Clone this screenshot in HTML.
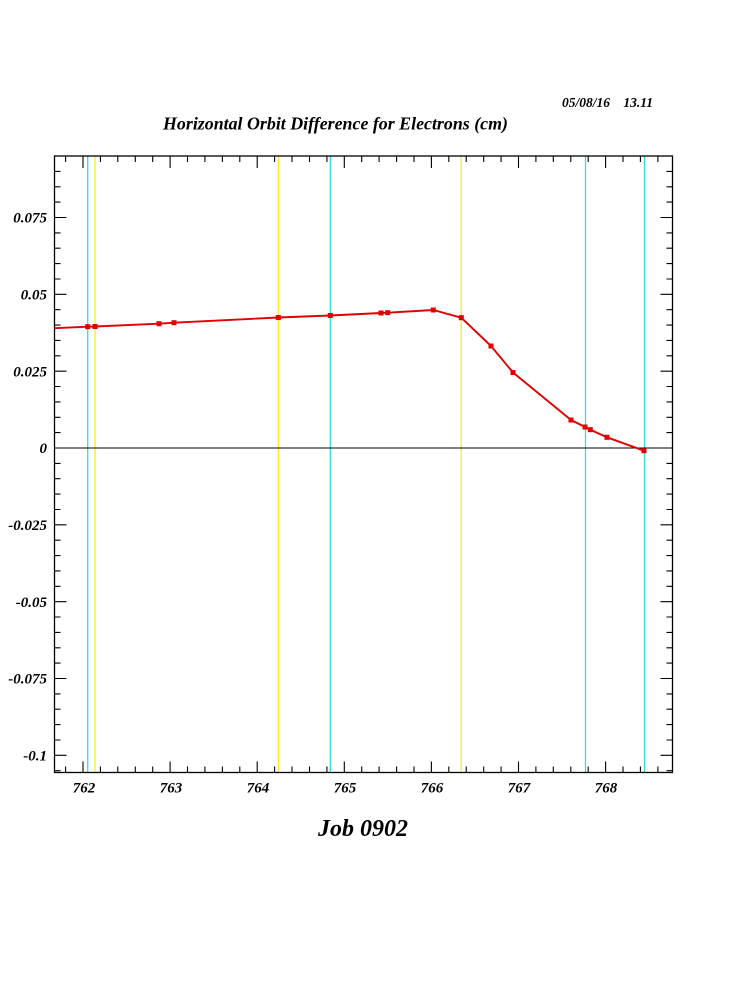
<!DOCTYPE html>
<html><head><meta charset="utf-8"><style>
html,body{margin:0;padding:0;background:#fff;}
svg{display:block;}
text{font-family:"Liberation Serif",serif;font-weight:bold;font-style:italic;fill:#000;}
</style></head><body>
<svg width="750" height="1000" viewBox="0 0 750 1000" xmlns="http://www.w3.org/2000/svg">
<rect width="750" height="1000" fill="#fff"/>
<text x="562" y="107" font-size="13.5">05/08/16</text>
<text x="653" y="107" font-size="13.5" text-anchor="end">13.11</text>
<text x="163" y="129.5" font-size="17.5" textLength="345" lengthAdjust="spacingAndGlyphs">Horizontal Orbit Difference for Electrons (cm)</text>
<!-- vertical element lines -->
<g stroke-width="1.3">
<line x1="87.7" y1="156" x2="87.7" y2="772" stroke="#33dddd"/>
<line x1="95" y1="156" x2="95" y2="772" stroke="#f5ee20"/>
<line x1="278.3" y1="156" x2="278.3" y2="772" stroke="#f5ee20"/>
<line x1="330.3" y1="156" x2="330.3" y2="772" stroke="#33dddd"/>
<line x1="461.2" y1="156" x2="461.2" y2="772" stroke="#f5ee20"/>
<line x1="585.5" y1="156" x2="585.5" y2="772" stroke="#33dddd"/>
<line x1="644.5" y1="156" x2="644.5" y2="772" stroke="#33dddd"/>
</g>
<!-- zero line -->
<line x1="54.5" y1="448" x2="672.5" y2="448" stroke="#000" stroke-width="1"/>
<!-- frame -->
<rect x="54.5" y="156" width="618" height="616.5" fill="none" stroke="#000" stroke-width="1.3"/>
<!-- y ticks -->
<path stroke="#000" stroke-width="1.1" fill="none" d="
M54.5 156.0H60.5 M54.5 171.4H60.5 M54.5 186.8H60.5 M54.5 202.1H60.5 M54.5 217.5H66.5
M54.5 232.9H60.5 M54.5 248.2H60.5 M54.5 263.6H60.5 M54.5 279.0H60.5 M54.5 294.3H66.5
M54.5 309.7H60.5 M54.5 325.1H60.5 M54.5 340.4H60.5 M54.5 355.8H60.5 M54.5 371.2H66.5
M54.5 386.5H60.5 M54.5 401.9H60.5 M54.5 417.3H60.5 M54.5 432.6H60.5 M54.5 448.0H66.5
M54.5 463.4H60.5 M54.5 478.7H60.5 M54.5 494.1H60.5 M54.5 509.5H60.5 M54.5 524.8H66.5
M54.5 540.2H60.5 M54.5 555.6H60.5 M54.5 570.9H60.5 M54.5 586.3H60.5 M54.5 601.7H66.5
M54.5 617.0H60.5 M54.5 632.4H60.5 M54.5 647.8H60.5 M54.5 663.1H60.5 M54.5 678.5H66.5
M54.5 693.9H60.5 M54.5 709.2H60.5 M54.5 724.6H60.5 M54.5 740.0H60.5 M54.5 755.3H66.5
M54.5 770.7H60.5
M672.5 156.0H666.5 M672.5 171.4H666.5 M672.5 186.8H666.5 M672.5 202.1H666.5 M672.5 217.5H660.5
M672.5 232.9H666.5 M672.5 248.2H666.5 M672.5 263.6H666.5 M672.5 279.0H666.5 M672.5 294.3H660.5
M672.5 309.7H666.5 M672.5 325.1H666.5 M672.5 340.4H666.5 M672.5 355.8H666.5 M672.5 371.2H660.5
M672.5 386.5H666.5 M672.5 401.9H666.5 M672.5 417.3H666.5 M672.5 432.6H666.5 M672.5 448.0H660.5
M672.5 463.4H666.5 M672.5 478.7H666.5 M672.5 494.1H666.5 M672.5 509.5H666.5 M672.5 524.8H660.5
M672.5 540.2H666.5 M672.5 555.6H666.5 M672.5 570.9H666.5 M672.5 586.3H666.5 M672.5 601.7H660.5
M672.5 617.0H666.5 M672.5 632.4H666.5 M672.5 647.8H666.5 M672.5 663.1H666.5 M672.5 678.5H660.5
M672.5 693.9H666.5 M672.5 709.2H666.5 M672.5 724.6H666.5 M672.5 740.0H666.5 M672.5 755.3H660.5
M672.5 770.7H666.5
"/>
<!-- x ticks -->
<path stroke="#000" stroke-width="1.1" fill="none" d="
M65.6 772.5V766.5 M83 772.5V761.5 M100.4 772.5V766.5 M117.8 772.5V766.5 M135.3 772.5V766.5 M152.7 772.5V766.5
M170.1 772.5V761.5 M187.5 772.5V766.5 M204.9 772.5V766.5 M222.4 772.5V766.5 M239.8 772.5V766.5
M257.2 772.5V761.5 M274.6 772.5V766.5 M292.0 772.5V766.5 M309.5 772.5V766.5 M326.9 772.5V766.5
M344.3 772.5V761.5 M361.7 772.5V766.5 M379.1 772.5V766.5 M396.6 772.5V766.5 M414.0 772.5V766.5
M431.4 772.5V761.5 M448.8 772.5V766.5 M466.2 772.5V766.5 M483.7 772.5V766.5 M501.1 772.5V766.5
M518.5 772.5V761.5 M535.9 772.5V766.5 M553.3 772.5V766.5 M570.8 772.5V766.5 M588.2 772.5V766.5
M605.6 772.5V761.5 M623.0 772.5V766.5 M640.4 772.5V766.5 M657.9 772.5V766.5
M65.6 156V162 M83 156V168 M100.4 156V162 M117.8 156V162 M135.3 156V162 M152.7 156V162
M170.1 156V168 M187.5 156V162 M204.9 156V162 M222.4 156V162 M239.8 156V162
M257.2 156V168 M274.6 156V162 M292.0 156V162 M309.5 156V162 M326.9 156V162
M344.3 156V168 M361.7 156V162 M379.1 156V162 M396.6 156V162 M414.0 156V162
M431.4 156V168 M448.8 156V162 M466.2 156V162 M483.7 156V162 M501.1 156V162
M518.5 156V168 M535.9 156V162 M553.3 156V162 M570.8 156V162 M588.2 156V162
M605.6 156V168 M623.0 156V162 M640.4 156V162 M657.9 156V162
"/>
<!-- y labels -->
<g font-size="15" text-anchor="end">
<text x="47" y="222.5">0.075</text>
<text x="47" y="299.5">0.05</text>
<text x="47" y="376.5">0.025</text>
<text x="47" y="453">0</text>
<text x="47" y="530">-0.025</text>
<text x="47" y="607">-0.05</text>
<text x="47" y="683.5">-0.075</text>
<text x="47" y="760.5">-0.1</text>
</g>
<!-- x labels -->
<g font-size="15" text-anchor="middle">
<text x="84" y="792.5">762</text>
<text x="171" y="792.5">763</text>
<text x="258" y="792.5">764</text>
<text x="345" y="792.5">765</text>
<text x="432" y="792.5">766</text>
<text x="519" y="792.5">767</text>
<text x="606" y="792.5">768</text>
</g>
<text x="363" y="836" font-size="24" text-anchor="middle">Job 0902</text>
<!-- data -->
<polyline fill="none" stroke="#e00000" stroke-width="1.9" stroke-linejoin="round" points="54.5,328.2 87.7,326.7 95,326.5 159,323.7 174,322.7 278.3,317.5 330.3,315.5 381,313 387.7,312.7 433.3,310 461.3,317.7 491,346 513,372.5 571,420 585,427 590.3,429.7 607,437.3 644,450.7"/>
<g fill="#e00000">
<rect x="85.2" y="324.2" width="5" height="5"/>
<rect x="92.5" y="324" width="5" height="5"/>
<rect x="156.5" y="321.2" width="5" height="5"/>
<rect x="171.5" y="320.2" width="5" height="5"/>
<rect x="275.8" y="315" width="5" height="5"/>
<rect x="327.8" y="313" width="5" height="5"/>
<rect x="378.5" y="310.5" width="5" height="5"/>
<rect x="385.2" y="310.2" width="5" height="5"/>
<rect x="430.8" y="307.5" width="5" height="5"/>
<rect x="458.8" y="315.2" width="5" height="5"/>
<rect x="488.5" y="343.5" width="5" height="5"/>
<rect x="510.5" y="370" width="5" height="5"/>
<rect x="568.5" y="417.5" width="5" height="5"/>
<rect x="582.5" y="424.5" width="5" height="5"/>
<rect x="587.8" y="427.2" width="5" height="5"/>
<rect x="604.5" y="434.8" width="5" height="5"/>
<rect x="641.5" y="448.2" width="5" height="5"/>
</g>
</svg>
</body></html>
